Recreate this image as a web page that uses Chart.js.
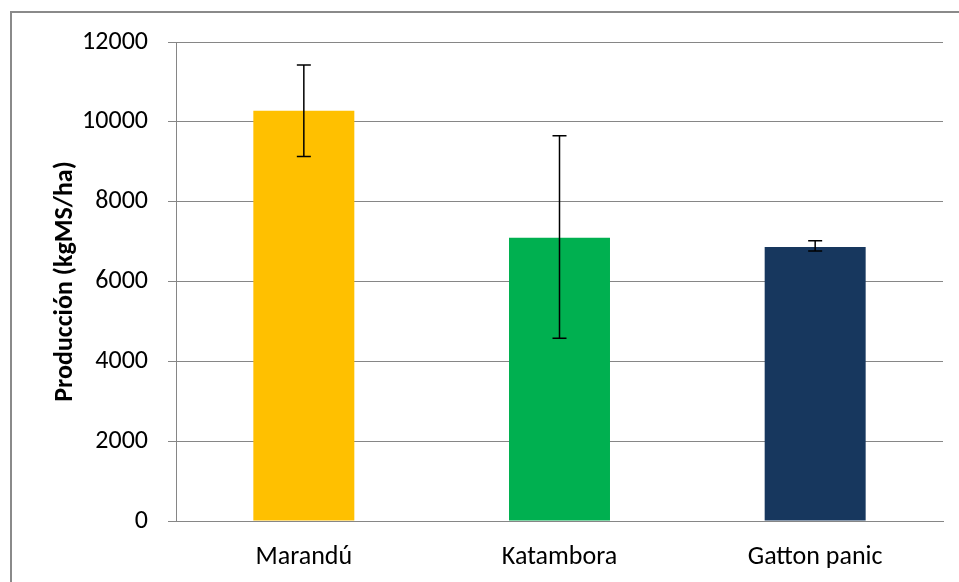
<!DOCTYPE html>
<html>
<head>
<meta charset="utf-8">
<script src="https://cdn.jsdelivr.net/npm/chart.js@4/dist/chart.umd.min.js"></script>
<style>
  html, body { margin: 0; padding: 0; background: #fff; }
  #wrap { position: relative; width: 959px; height: 582px; }
</style>
</head>
<body>
<div id="wrap"><canvas id="chart"></canvas></div>
<script>
// data
const categories = ['Marandú', 'Katambora', 'Gatton panic'];
const production = [10275, 7093, 6864];
const errLow = [9133, 4579, 6764];
const errHigh = [11421, 9649, 7022];
const barColors = ['#FFC000', '#00B050', '#17375E'];
const yTicks = [0, 2000, 4000, 6000, 8000, 10000, 12000];

const FONT = 'Carlito, Calibri, Lato, sans-serif';
const AXIS_GRAY = '#868686';

// outer chart frame (only left/top edges are inside the picture)
const framePlugin = {
    id: 'frame',
    beforeDraw(chart) {
        const c = chart.ctx;
        c.save();
        c.strokeStyle = '#8a8a8a';
        c.lineWidth = 2;
        c.beginPath();
        c.moveTo(11, chart.height + 5);
        c.lineTo(11, 12);
        c.lineTo(chart.width + 5, 12);
        c.stroke();
        c.restore();
    }
};

// error bars drawn from errLow / errHigh through the scales
const errorBarPlugin = {
    id: 'errorBars',
    afterDatasetsDraw(chart) {
        const c = chart.ctx;
        const y = chart.scales.y;
        const meta = chart.getDatasetMeta(0);
        c.save();
        c.strokeStyle = '#000';
        c.lineWidth = 1.5;
        meta.data.forEach((bar, i) => {
            const x = bar.x;
            const yLo = y.getPixelForValue(errLow[i]);
            const yHi = y.getPixelForValue(errHigh[i]);
            c.beginPath();
            c.moveTo(x, yLo); c.lineTo(x, yHi);
            c.moveTo(x - 7, yHi); c.lineTo(x + 7, yHi);
            c.moveTo(x - 7, yLo); c.lineTo(x + 7, yLo);
            c.stroke();
        });
        c.restore();
    }
};

new Chart(document.getElementById('chart'), {
    type: 'bar',
    data: {
        labels: categories,
        datasets: [{
            data: production,
            backgroundColor: barColors,
            borderWidth: 0,
            categoryPercentage: 1,
            barPercentage: 0.395
        }]
    },
    options: {
        responsive: true,
        maintainAspectRatio: false,
        animation: false,
        layout: { padding: { top: 42, right: 16, left: 0, bottom: 0 } },
        plugins: {
            legend: { display: false },
            tooltip: { enabled: false }
        },
        scales: {
            x: {
                grid: { display: false, drawTicks: false },
                border: { display: true, color: AXIS_GRAY, width: 1 },
                ticks: { color: '#000', font: { family: FONT, size: 26 }, padding: 21 },
                afterFit: s => { s.height = 61; }
            },
            y: {
                min: 0,
                max: 12000,
                afterBuildTicks: s => { s.ticks = yTicks.map(v => ({ value: v })); },
                grid: { color: AXIS_GRAY, lineWidth: 1, tickLength: 8 },
                border: { display: true, color: AXIS_GRAY, width: 1 },
                ticks: {
                    color: '#000',
                    font: { family: FONT, size: 26 },
                    padding: 20,
                    callback: v => String(v)
                },
                title: {
                    display: true,
                    text: 'Producción (kgMS/ha)',
                    color: '#000',
                    font: { family: FONT, size: 26, weight: 'bold' },
                    padding: { top: 50, bottom: 0 }
                },
                afterFit: s => { s.width = 176; }
            }
        }
    },
    plugins: [framePlugin, errorBarPlugin]
});
</script>
</body>
</html>
